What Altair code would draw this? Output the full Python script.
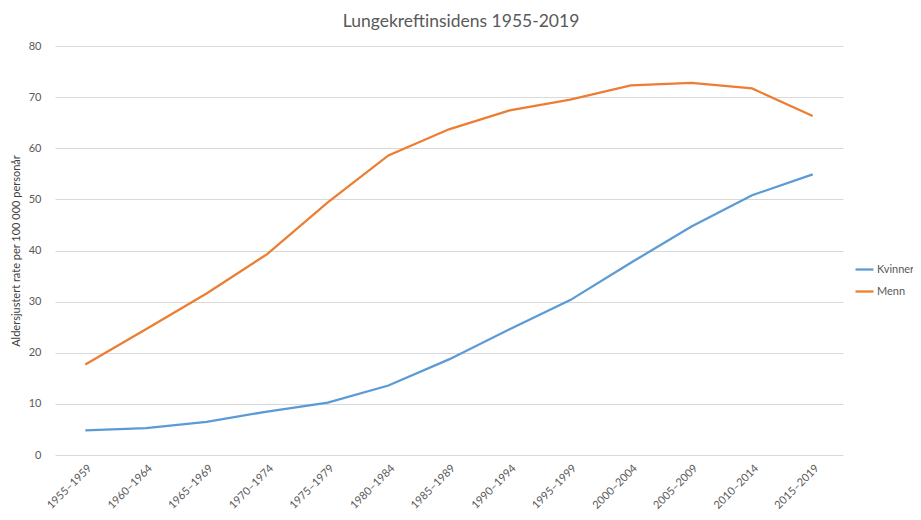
import altair as alt
import pandas as pd

periods = ["1955–1959", "1960–1964", "1965–1969", "1970–1974", "1975–1979",
           "1980–1984", "1985–1989", "1990–1994", "1995–1999", "2000–2004",
           "2005–2009", "2010–2014", "2015–2019"]
kvinner = [4.8, 5.25, 6.5, 8.5, 10.25, 13.6, 18.7, 24.6, 30.3, 37.6, 44.7, 50.8, 54.9]
menn = [17.7, 24.6, 31.6, 39.3, 49.4, 58.6, 63.7, 67.4, 69.5, 72.3, 72.8, 71.7, 66.3]
series = ["Kvinner", "Menn"]
colors = ["#5B9BD5", "#ED7D31"]

rows = []
for i, p in enumerate(periods):
    rows.append({"periode": p, "serie": "Kvinner", "verdi": kvinner[i], "ord": i})
    rows.append({"periode": p, "serie": "Menn", "verdi": menn[i], "ord": i})
df = pd.DataFrame(rows)

font = "Lato"

chart = alt.Chart(df).mark_line(strokeWidth=2.25).encode(
    x=alt.X("periode:N", sort=periods,
            scale=alt.Scale(type="point", padding=0.5),
            axis=alt.Axis(title=None, labelAngle=-45, labelFontSize=11,
                          labelColor="#595959", labelFont=font, ticks=False,
                          domain=False, grid=False, labelPadding=7)),
    y=alt.Y("verdi:Q", scale=alt.Scale(domain=[0, 80]),
            axis=alt.Axis(title="Aldersjustert rate per 100 000 personår",
                          values=list(range(0, 81, 10)),
                          titleFontSize=11, titleFontWeight="normal",
                          titleColor="#404040", titleFont=font, titlePadding=7,
                          labelFontSize=11, labelColor="#595959", labelFont=font,
                          labelPadding=14, ticks=False, domain=False,
                          grid=True, gridColor="#d9d9d9", gridWidth=1)),
    color=alt.Color("serie:N", scale=alt.Scale(domain=series, range=colors),
                    legend=alt.Legend(title=None, orient="none", legendX=799,
                                      legendY=213, symbolType="stroke",
                                      symbolSize=324, symbolStrokeWidth=2.25,
                                      labelFontSize=11, labelColor="#595959",
                                      labelFont=font, rowPadding=6,
                                      labelOffset=2)),
    order="ord:Q",
).properties(
    width=788, height=409,
    title=alt.Title("Lungekreftinsidens 1955-2019", fontSize=17.5,
                    fontWeight="normal", color="#595959", font=font,
                    offset=10, dx=12),
    autosize=alt.AutoSizeParams(type="none"),
    padding={"left": 47, "top": 38, "right": 70, "bottom": 57},
).configure_view(stroke=None)

chart.save("out.html", embed_options={"renderer": "svg", "actions": False})
